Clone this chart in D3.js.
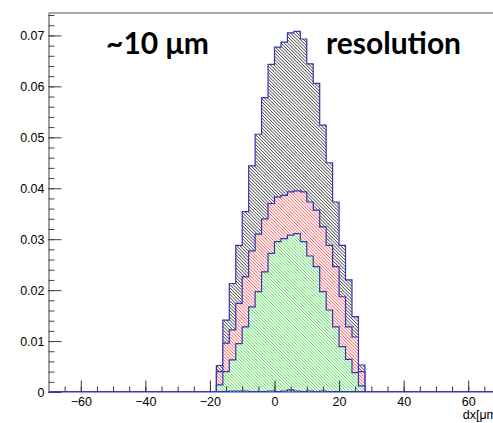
<!DOCTYPE html>
<html>
<head>
<meta charset="utf-8">
<script src="https://cdn.jsdelivr.net/npm/d3@7/dist/d3.min.js"></script>
<style>
  body { margin: 0; background: #fff; }
  svg { display: block; }
  .axis text { font-family: "Liberation Sans", Arial, sans-serif; font-size: 12.5px; fill: #000; }
  .big { font-family: Lato, "Open Sans", sans-serif; font-weight: 700; font-size: 30px; fill: #000; }
</style>
</head>
<body>
<div id="vis"></div>
<script>
// bin edges of the histograms (2 um wide bins)
var binEdges = [-18,-16,-14,-12,-10,-8,-6,-4,-2,0,2,4,6,8,10,12,14,16,18,20,22,24,26,28];

// black hatched: all tracks
var allTracks = [0.0052,0.0141,0.0213,0.0288,0.0354,0.0444,0.0506,0.0578,0.0643,0.0677,0.0687,0.0705,
                 0.0708,0.0693,0.0644,0.0606,0.0524,0.0450,0.0373,0.0288,0.0220,0.0148,0.0053];
// red hatched
var redTracks = [0.0040,0.0096,0.0122,0.0174,0.0226,0.0277,0.0310,0.0340,0.0370,0.0383,0.0386,0.0393,
                 0.0395,0.0393,0.0373,0.0357,0.0324,0.0288,0.0246,0.0187,0.0128,0.0108,0.0040];
// green hatched
var greenTracks = [0.0014,0.0040,0.0063,0.0095,0.0128,0.0167,0.0197,0.0236,0.0272,0.0295,0.0301,0.0308,
                   0.0311,0.0295,0.0267,0.0246,0.0197,0.0161,0.0128,0.0089,0.0064,0.0038,0.0012];
// tiny remainder near the baseline
var tinyTracks = [0.0001,0.0001,0.0002,0.0002,0.0002,0.0001,0.0001,0.0001,0.0002,0.0001,0.0002,0.0004,
                  0.0002,0.0001,0.0002,0.0001,0.0002,0.0001,0.0001,0.0001,0.0001,0.0001,0.0001];

var xTicks = [-60,-40,-20,0,20,40,60];
var yTicks = [0,0.01,0.02,0.03,0.04,0.05,0.06,0.07];
var yTickLabels = ["0","0.01","0.02","0.03","0.04","0.05","0.06","0.07"];
var xTitle = "dx[\u03bcm]";
var leftNote = "~10 \u03bcm";
var rightNote = "resolution";

var W = 493, H = 423;
var x = d3.scaleLinear().domain([-70, 70]).range([48.5, 500.5]),
    y = d3.scaleLinear().domain([0, 0.0744]).range([392, 13]);

var svg = d3.select("#vis").append("svg")
    .attr("width", W)
    .attr("height", H);

var defs = svg.append("defs");
function hatch(id, color, w) {
  var p = defs.append("pattern")
      .attr("id", id)
      .attr("patternUnits", "userSpaceOnUse")
      .attr("width", 2.3)
      .attr("height", 10)
      .attr("patternTransform", "rotate(-45)");
  p.append("rect").attr("width", 2.3).attr("height", 10).attr("fill", "#fff");
  p.append("rect").attr("width", w).attr("height", 10).attr("fill", color);
}
hatch("hBlack", "#444", 0.75);
hatch("hRed", "#ff6060", 0.8);
hatch("hGreen", "#55e055", 0.8);
hatch("hTiny", "#444", 0.75);

defs.append("clipPath").attr("id", "plotClip")
  .append("rect").attr("x", x(-70)).attr("y", y.range()[1])
  .attr("width", x(70) - x(-70)).attr("height", y(0) - y.range()[1]);

function histPoints(vals) {
  var pts = [[-70, 0], [binEdges[0], 0]];
  vals.forEach(function(v, i) {
    pts.push([binEdges[i], v]);
    pts.push([binEdges[i + 1], v]);
  });
  pts.push([binEdges[binEdges.length - 1], 0]);
  pts.push([70, 0]);
  return pts;
}
var line = d3.line().x(function(d) { return x(d[0]); }).y(function(d) { return y(d[1]); });

var plot = svg.append("g").attr("clip-path", "url(#plotClip)");
[[allTracks, "hBlack"], [redTracks, "hRed"], [greenTracks, "hGreen"], [tinyTracks, "hTiny"]].forEach(function(h) {
  plot.append("path")
    .attr("d", line(histPoints(h[0])))
    .attr("fill", "url(#" + h[1] + ")")
    .attr("stroke", "#3434b4")
    .attr("stroke-width", 1.2)
    .attr("stroke-linejoin", "miter");
});

// frame top
svg.append("line")
  .attr("x1", x(-70)).attr("x2", x(70))
  .attr("y1", y.range()[1]).attr("y2", y.range()[1])
  .attr("stroke", "#555").attr("stroke-width", 1);

// y axis
var yMinor = d3.range(0, 0.0741, 0.002);
svg.append("g").attr("class", "axis")
  .attr("transform", "translate(" + x(-70) + ",0)")
  .call(d3.axisLeft(y).tickValues(yMinor).tickSizeInner(-6).tickSizeOuter(0).tickFormat(""))
  .call(function(g) { g.select(".domain").attr("stroke", "#888").attr("stroke-width", 1.6); g.selectAll(".tick line").attr("stroke", "#444"); });
svg.append("g").attr("class", "axis")
  .attr("transform", "translate(" + x(-70) + ",0)")
  .call(d3.axisLeft(y).tickValues(yTicks).tickSizeInner(-13).tickSizeOuter(0).tickPadding(4)
        .tickFormat(function(d, i) { return yTickLabels[i]; }))
  .call(function(g) { g.select(".domain").remove(); g.selectAll(".tick line").attr("stroke", "#444"); });

// x axis
var xMinor = d3.range(-65, 70, 5);
svg.append("g").attr("class", "axis")
  .attr("transform", "translate(0," + y(0) + ")")
  .call(d3.axisBottom(x).tickValues(xMinor).tickSizeInner(-5.5).tickSizeOuter(0).tickFormat(""))
  .call(function(g) { g.select(".domain").remove(); g.selectAll(".tick line").attr("stroke", "#333"); });
svg.append("g").attr("class", "axis")
  .attr("transform", "translate(0," + y(0) + ")")
  .call(d3.axisBottom(x).tickValues(xTicks).tickSizeInner(-11.5).tickSizeOuter(0).tickPadding(5))
  .call(function(g) { g.select(".domain").remove(); g.selectAll(".tick line").attr("stroke", "#333"); });

// baseline in blue (histogram outline along zero)
svg.append("line")
  .attr("x1", x(-70)).attr("x2", x(70))
  .attr("y1", y(0)).attr("y2", y(0))
  .attr("stroke", "#3434b4").attr("stroke-width", 1.2);

// axis title, cut by the right edge as in the original
svg.append("text").attr("class", "axis")
  .attr("x", x(70)).attr("y", 419)
  .attr("text-anchor", "end")
  .style("font-family", "'Liberation Sans', Arial, sans-serif").style("font-size", "12.5px")
  .text(xTitle);

svg.append("text").attr("class", "big").attr("x", 106).attr("y", 54).text(leftNote);
svg.append("text").attr("class", "big").attr("x", 326).attr("y", 54).text(rightNote);
</script>
</body>
</html>
